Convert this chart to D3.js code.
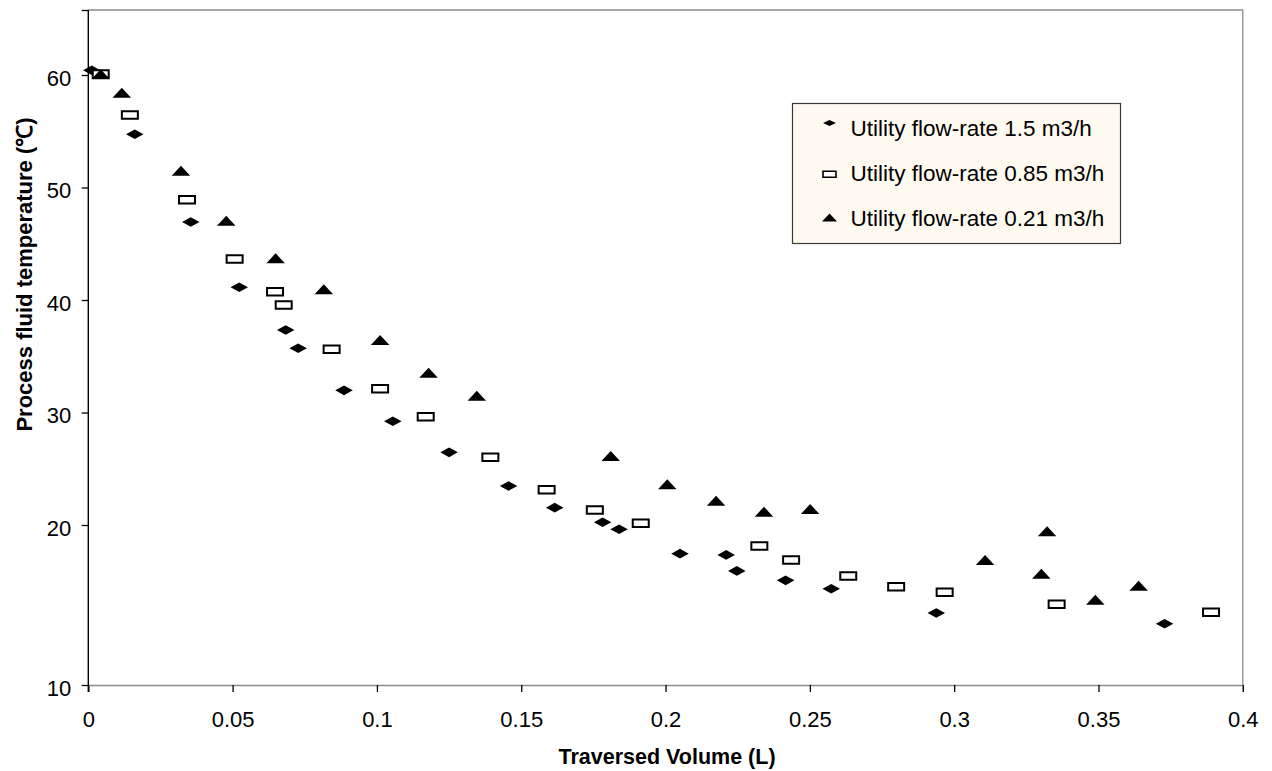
<!DOCTYPE html>
<html><head><meta charset="utf-8">
<script src="https://cdn.jsdelivr.net/npm/d3@7"></script>
<style>body{margin:0;background:#fff}svg{display:block}</style>
</head><body>
<svg id="chart" width="1272" height="771"></svg>
<script>
// ---------- data ----------
const xTicks = [0, 0.05, 0.1, 0.15, 0.2, 0.25, 0.3, 0.35, 0.4];
const yTicks = [10, 20, 30, 40, 50, 60];
const yTop = 70;
const seriesNames = ["Utility flow-rate 1.5 m3/h", "Utility flow-rate 0.85 m3/h", "Utility flow-rate 0.21 m3/h"];

const flow150X = [0.0012,0.0161,0.0355,0.0523,0.0684,0.0727,0.0886,0.1055,0.1250,0.1456,0.1616,0.1782,0.1839,0.2050,0.2210,0.2247,0.2416,0.2574,0.2938,0.3729];
const flow150Y = [60.74,54.73,46.93,41.13,37.33,35.71,31.97,29.22,26.46,23.47,21.54,20.24,19.73,18.21,18.13,17.13,16.54,16.02,14.50,13.83];

const flow085X = [0.0043,0.0144,0.0342,0.0507,0.0647,0.0677,0.0843,0.1011,0.1169,0.1393,0.1588,0.1755,0.1914,0.2325,0.2435,0.2633,0.2799,0.2967,0.3355,0.3890];
const flow085Y = [60.15,56.44,48.92,43.64,40.74,39.56,35.62,32.12,29.63,26.02,23.14,21.33,20.15,18.69,17.81,16.81,16.14,15.79,15.04,14.54];

const flow021X = [0.0043,0.0116,0.0321,0.0478,0.0649,0.0816,0.1011,0.1179,0.1346,0.1810,0.2006,0.2175,0.2341,0.2501,0.3107,0.3302,0.3322,0.3489,0.3639];
const flow021Y = [60.10,58.43,51.49,47.05,43.71,40.95,36.44,33.54,31.49,26.13,23.62,22.16,21.18,21.42,17.81,16.96,19.61,15.33,16.21];

// ---------- layout ----------
const svg = d3.select("#chart");
const L = 88.3, R = 1242.8, T = 10, B = 685;
const FONT = "'Liberation Sans', Arial, Helvetica, sans-serif";

const x = d3.scaleLinear().domain([0, 0.4]).range([L, R]);
// axis as drawn in the reference: 10→20 span is wider than the equal 20..60 spans
const y = d3.scaleLinear().domain([10, 20, 60, yTop]).range([B, 525, 75, T]);

// frame (top + right gray)
svg.append("path")
  .attr("d", `M${x(0)},${y(yTop)}H${x(0.4)}V${y(10)}`)
  .attr("fill", "none").attr("stroke", "#8c8c8c").attr("stroke-width", 1.3);

// x axis
const gx = svg.append("g").attr("transform", `translate(0,${B})`)
  .call(d3.axisBottom(x).tickValues(xTicks).tickSize(7).tickPadding(19.5)
    .tickFormat(d => d3.format("")(d)));
gx.select(".domain").attr("stroke", "#8c8c8c").attr("stroke-width", 1.3);
gx.selectAll(".tick line").attr("stroke", "#000").attr("stroke-width", 1.3);
gx.selectAll("text").attr("font-family", FONT).attr("font-size", "22px").attr("fill", "#000");

// y axis
const gy = svg.append("g").attr("transform", `translate(${L},0)`)
  .call(d3.axisLeft(y).tickValues(yTicks.concat([yTop])).tickSize(6.6).tickPadding(10.5)
    .tickFormat(d => yTicks.includes(d) ? String(d) : ""));
gy.select(".domain").attr("stroke", "#000").attr("stroke-width", 1.4)
  .attr("d", `M0,${y(yTop)}V${B + 7}`);
gy.selectAll(".tick line").attr("stroke", "#000").attr("stroke-width", 1.3);
gy.selectAll("text").attr("font-family", FONT).attr("font-size", "22px").attr("fill", "#000")
  .attr("dy", "0.47em");

// axis titles
svg.append("text").attr("x", (L + R) / 2 + 1.5).attr("y", 764)
  .attr("text-anchor", "middle").attr("font-family", FONT).attr("font-weight", "bold")
  .attr("font-size", "21.5px").text("Traversed Volume (L)");
svg.append("text").attr("transform", "translate(31.5,274.5) rotate(-90)")
  .attr("text-anchor", "middle").attr("font-family", FONT).attr("font-weight", "bold")
  .attr("font-size", "22px").text("Process fluid temperature (\u2103)");

// ---------- markers ----------
function diamondPath(w, h) { return `M0,${-h/2}L${w/2},0L0,${h/2}L${-w/2},0Z`; }
function trianglePath(w, h) { return `M0,${-h/2}L${w/2},${h/2}L${-w/2},${h/2}Z`; }
function rectPath(w, h) { return `M${-w/2},${-h/2}H${w/2}V${h/2}H${-w/2}Z`; }

const series = [
  { name: seriesNames[0], xs: flow150X, ys: flow150Y, path: diamondPath(17.5, 9.6), fill: "#000", stroke: "none", sw: 0,
    lpath: diamondPath(13, 6), ldy: -4.5 },
  { name: seriesNames[1], xs: flow085X, ys: flow085Y, path: rectPath(16, 7.5), fill: "#fff", stroke: "#000", sw: 2,
    lpath: rectPath(13, 6), ldy: 1.5 },
  { name: seriesNames[2], xs: flow021X, ys: flow021Y, path: trianglePath(18.5, 10), fill: "#000", stroke: "none", sw: 0,
    lpath: trianglePath(15, 8), ldy: -0.5 }
];

const plot = svg.append("g");
series.forEach(s => {
  const pts = s.xs.map((v, i) => [v, s.ys[i]]);
  plot.append("g").selectAll("path").data(pts).join("path")
    .attr("d", s.path)
    .attr("transform", d => `translate(${x(d[0])},${y(d[1])})`)
    .attr("fill", s.fill).attr("stroke", s.stroke).attr("stroke-width", s.sw);
});

// ---------- legend ----------
const lg = svg.append("g").attr("transform", "translate(792.5,103.5)");
lg.append("rect").attr("width", 328).attr("height", 140)
  .attr("fill", "#fffaf0").attr("stroke", "#3a3a3a").attr("stroke-width", 1.2);
series.forEach((s, i) => {
  const cy = 24 + i * 45.3;
  lg.append("path").attr("d", s.lpath)
    .attr("transform", `translate(37,${cy + s.ldy})`)
    .attr("fill", s.fill).attr("stroke", s.stroke).attr("stroke-width", s.sw ? 1.6 : 0);
  lg.append("text").attr("x", 58).attr("y", cy + 8)
    .attr("font-family", FONT).attr("font-size", "22.5px").attr("fill", "#000").text(s.name);
});
</script>
</body></html>
